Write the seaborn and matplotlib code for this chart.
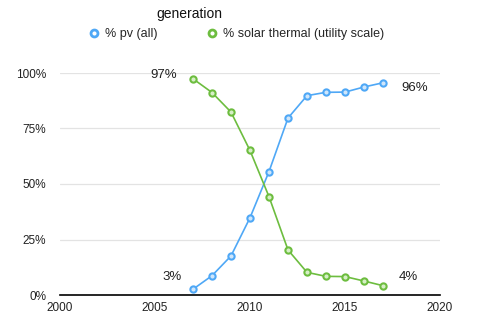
import matplotlib
matplotlib.use("Agg")
import matplotlib.pyplot as plt
import seaborn as sns
import pandas as pd
from matplotlib.lines import Line2D

years = [2007, 2008, 2009, 2010, 2011, 2012, 2013, 2014, 2015, 2016, 2017]
pv_share = [2.6, 8.7, 17.6, 34.8, 55.6, 79.7, 89.8, 91.3, 91.4, 93.7, 95.6]
thermal_share = [97.4, 91.2, 82.4, 65.1, 44.3, 20.3, 10.2, 8.4, 8.3, 6.3, 4.2]
series_names = ["% pv (all)", "% solar thermal (utility scale)"]
legend_title = "generation"
x_ticks = [2000, 2005, 2010, 2015, 2020]
y_ticks = [0, 25, 50, 75, 100]
y_tick_labels = ["0%", "25%", "50%", "75%", "100%"]

colors = {series_names[0]: "#4fa8f6", series_names[1]: "#6dbd3f"}

df = pd.DataFrame({
    "year": years * 2,
    "share": pv_share + thermal_share,
    "generation": [series_names[0]] * len(years) + [series_names[1]] * len(years),
})

sns.set_style("white")
plt.rcParams["font.family"] = ["Liberation Sans", "DejaVu Sans"]

fig = plt.figure(figsize=(4.83, 3.35), dpi=100)
ax = fig.add_axes([60 / 483, 40 / 335, 380 / 483, 222 / 335])

ax.set_yticks(y_ticks)
ax.yaxis.grid(True, color="#e3e3e3", linewidth=0.9)
ax.set_axisbelow(True)

sns.lineplot(data=df, x="year", y="share", hue="generation", palette=colors,
             linewidth=1.2, legend=False, ax=ax, clip_on=False, zorder=3)
for name in series_names:
    sub = df[df["generation"] == name]
    ax.plot(sub["year"], sub["share"], linestyle="none", marker="o",
            markersize=4.5, markeredgewidth=1.5, color=colors[name],
            markerfacecolor="#cfe6fb" if name == series_names[0] else "#d6efc6",
            clip_on=False, zorder=4)

ax.set_xlim(2000, 2020)
ax.set_ylim(0, 100)
ax.set_xticks(x_ticks)
ax.set_yticklabels(y_tick_labels)
ax.set_xlabel("")
ax.set_ylabel("")
for side in ["top", "right", "left"]:
    ax.spines[side].set_visible(False)
ax.spines["bottom"].set_color("black")
ax.spines["bottom"].set_linewidth(1.2)
ax.tick_params(axis="both", length=0, labelsize=8.5, colors="#222222")
ax.tick_params(axis="y", pad=10)
ax.tick_params(axis="x", pad=5)

# value annotations at the ends of each series
lbl = dict(fontsize=9.5, color="#222222", va="center")
ax.annotate(f"{thermal_share[0]:.0f}%", (years[0], thermal_share[0]),
            xytext=(-31, 3), textcoords="offset points", ha="left", **lbl)
ax.annotate(f"{pv_share[0]:.0f}%", (years[0], pv_share[0]),
            xytext=(-22, 9), textcoords="offset points", ha="left", **lbl)
ax.annotate(f"{pv_share[-1]:.0f}%", (years[-1], pv_share[-1]),
            xytext=(13, -4), textcoords="offset points", ha="left", **lbl)
ax.annotate(f"{thermal_share[-1]:.0f}%", (years[-1], thermal_share[-1]),
            xytext=(11, 6), textcoords="offset points", ha="left", **lbl)

# legend with its heading placed separately above the entries
handles = [Line2D([], [], linestyle="none", marker="o", markersize=5,
                  markeredgewidth=2, markerfacecolor="white",
                  markeredgecolor=colors[n]) for n in series_names]
fig.legend(handles, series_names, ncol=2,
           loc="center", bbox_to_anchor=(0.487, 1 - 34 / 335),
           frameon=False, fontsize=9, borderpad=0,
           handletextpad=0.25, columnspacing=3.8, handlelength=1.2)
fig.text(189 / 483, 1 - 14 / 335, legend_title, ha="center", va="center",
         fontsize=10, color="#111111")

fig.savefig("out.png", dpi=100)
